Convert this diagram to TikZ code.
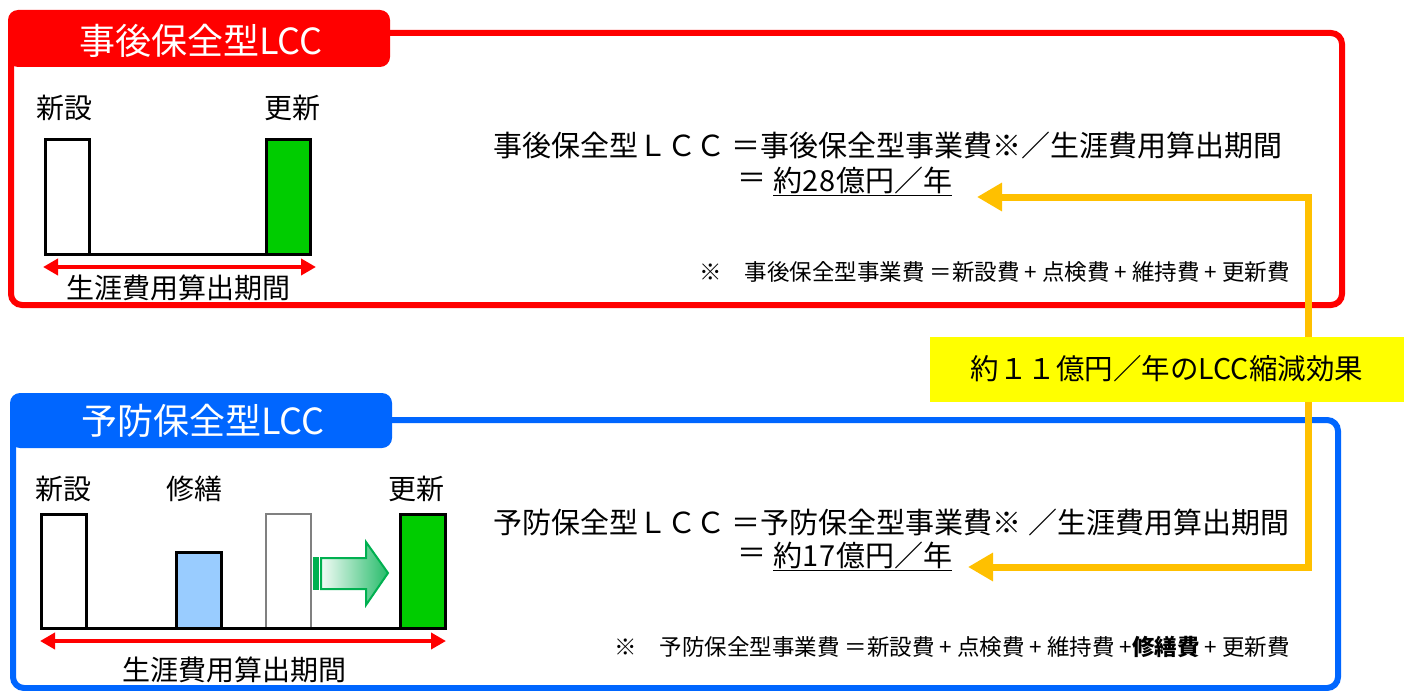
\documentclass[tikz,border=0pt]{standalone}
\usepackage{fontspec}
\setmainfont{Noto Sans CJK JP}
\usetikzlibrary{arrows.meta}
\definecolor{myred}{RGB}{255,0,0}
\definecolor{myblue}{RGB}{0,102,255}
\definecolor{bargreen}{RGB}{0,204,0}
\definecolor{barblue}{RGB}{153,204,255}
\definecolor{lineorange}{RGB}{255,192,0}
\definecolor{boxyellow}{RGB}{255,255,0}
\definecolor{arrgreen}{RGB}{0,176,80}
\begin{document}
\begin{tikzpicture}[x=1pt,y=-1pt,
  frame/.style={line width=6pt,rounded corners=11pt},
  tab/.style={rounded corners=10pt},
  tabtext/.style={text=white,font=\fontsize{36}{40}\selectfont,inner sep=0pt},
  lbl/.style={font=\fontsize{28}{32}\selectfont,inner sep=0pt},
  bar/.style={draw=black,line width=3pt},
  greybar/.style={draw=gray,line width=2pt,fill=white},
  span/.style={draw=myred,line width=4pt,{Triangle[length=15pt,width=16pt]}-{Triangle[length=15pt,width=16pt]}},
  formula/.style={font=\fontsize{29}{32}\selectfont,inner sep=0pt,anchor=west},
  note/.style={font=\fontsize{22.5}{26}\selectfont,inner sep=0pt,anchor=east},
  oline/.style={draw=lineorange,line width=7pt,line join=miter,{Triangle[length=25pt,width=27pt]}-{Triangle[length=25pt,width=27pt]}},
]
\useasboundingbox (0,0) rectangle (1404,690);
\clip (0,0) rectangle (1404,690);
\fill[white] (0,0) rectangle (1404,690);

% ---------- upper (red) panel ----------
\draw[frame,myred] (11,33) rectangle (1342,305);
\fill[tab,myred] (8,10) rectangle (390,67);
\node[tabtext] (t1) at (201,41) {事後保全型LCC};

\node[lbl] (a1) at (64,108) {新設};
\node[lbl] (a2) at (292,108) {更新};
\draw[bar,fill=white] (45,139) rectangle (89,254);
\draw[bar,fill=bargreen] (266,139) rectangle (310,254);
\draw[line width=3pt] (45,254) -- (310,254);
\coordinate (s1a) at (43,267);
\coordinate (s1b) at (316,267);
\draw[span] (s1a) -- (s1b);
\node[lbl] (p1) at (178,288) {生涯費用算出期間};

\node[formula] (f1) at (493,145) {事後保全型ＬＣＣ ＝事後保全型事業費※／生涯費用算出期間};
\node[formula] (e1) at (737,181) {＝};
\node[formula] (r1) at (773,181) {\underline{約2\kern1pt8\kern1pt億円／年}};
\node[note] (n1) at (1290,272) {※　事後保全型事業費 ＝新設費 + 点検費 + 維持費 + 更新費};

% ---------- lower (blue) panel ----------
\draw[frame,myblue] (13,420) rectangle (1338,688);
\fill[tab,myblue] (10,393) rectangle (392,448);
\node[tabtext] (t2) at (203,421) {予防保全型LCC};

\node[lbl] (b1) at (63,489) {新設};
\node[lbl] (b2) at (194,489) {修繕};
\node[lbl] (b3) at (416,489) {更新};
\draw[bar,fill=white] (41,514) rectangle (86,628);
\draw[bar,fill=barblue] (176,552) rectangle (221,628);
\draw[greybar] (266,514) rectangle (311,628);
\draw[bar,fill=bargreen] (400,514) rectangle (445,628);
\draw[line width=3pt] (41,628) -- (445,628);
% green gradient arrow
\fill[arrgreen] (313,557) rectangle (319,590);
\shade[left color=arrgreen!5, right color=arrgreen!85]
  (321,558) -- (366,558) -- (366,542) -- (388,573) -- (366,605) -- (366,589) -- (321,589) -- cycle;
\draw[arrgreen,line width=2pt,line join=miter]
  (321,558) -- (366,558) -- (366,542) -- (388,573) -- (366,605) -- (366,589) -- (321,589) -- cycle;
\coordinate (s2a) at (40,641);
\coordinate (s2b) at (446,641);
\draw[span] (s2a) -- (s2b);
\node[lbl] (p2) at (234,670) {生涯費用算出期間};

\node[formula] (f2) at (493,522) {予防保全型ＬＣＣ ＝予防保全型事業費※ ／生涯費用算出期間};
\node[formula] (e2) at (737,556) {＝};
\node[formula] (r2) at (773,556) {\underline{約1\kern1pt7\kern1pt億円／年}};
\node[note] (n2) at (1290,647) {※　予防保全型事業費 ＝新設費 + 点検費 + 維持費 +\textbf{修繕費} + 更新費};

% ---------- orange connector ----------
\coordinate (tip1) at (977,197);
\coordinate (tip2) at (968,567);
\coordinate (ctop) at (1308,197);
\coordinate (cbot) at (1308,567);
\draw[oline] (tip1) -- (ctop) -- (cbot) -- (tip2);

% ---------- yellow box ----------
\node[fill=boxyellow,minimum width=474pt,minimum height=65pt,inner sep=0pt,
      font=\fontsize{28.5}{32}\selectfont] (yb) at (1167,369) {約１１億円／年のLCC縮減効果};
\end{tikzpicture}
\end{document}
